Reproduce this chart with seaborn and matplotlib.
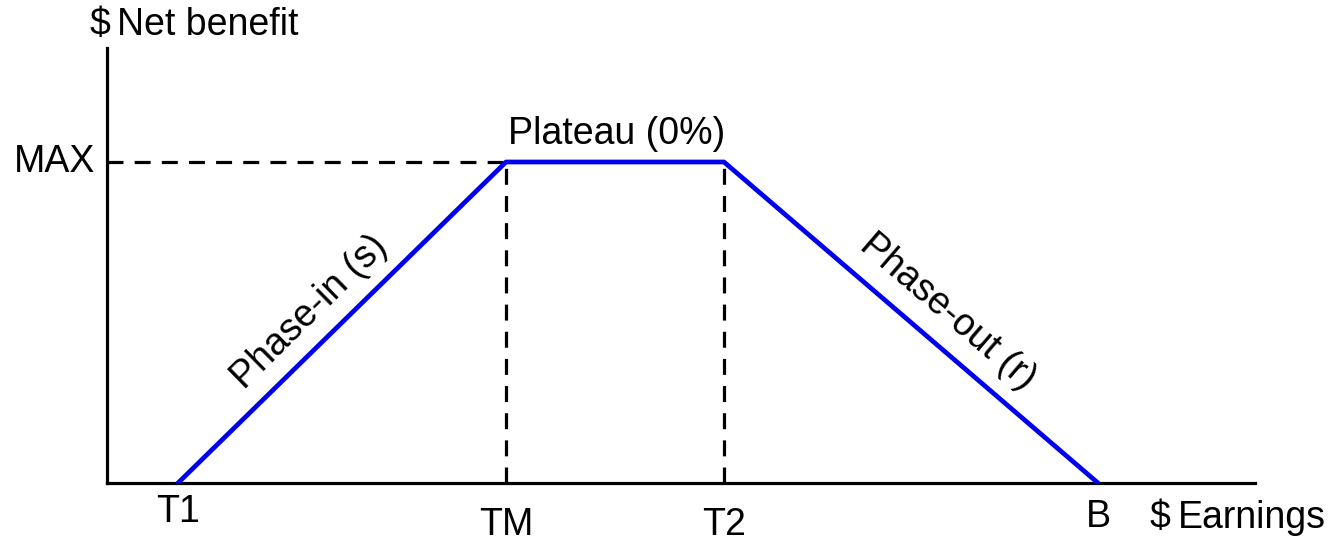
import matplotlib
matplotlib.use("Agg")
import matplotlib.pyplot as plt
import seaborn as sns
import pandas as pd

# Data (kinks of the benefit schedule, in arbitrary $ units)
points = ["T1", "TM", "T2", "B"]
earnings = [71, 399, 617, 991]
benefit = [0, 321, 321, 0]
max_benefit = 321
segment_labels = ["Phase-in (s)", "Plateau (0%)", "Phase-out (r)"]

sns.set_theme(style="white")
plt.rcParams['font.family'] = ['Liberation Sans', 'DejaVu Sans']
plt.rcParams['text.color'] = 'black'

fig = plt.figure(figsize=(13.28, 5.46), dpi=100)
ax = fig.add_axes([107/1328, (546-483)/546, (1255-107)/1328, (483-48)/546])

df = pd.DataFrame({"earnings": earnings, "benefit": benefit})
sns.lineplot(data=df, x="earnings", y="benefit", sort=False, color="#0000ee",
             linewidth=3.4, ax=ax, zorder=3)

dash = (0, (5, 3.5))
ax.plot([0, earnings[1]], [max_benefit, max_benefit], color="black", lw=2.3, linestyle=dash, zorder=2)
for xv in earnings[1:3]:
    ax.plot([xv, xv], [0, max_benefit], color="black", lw=2.3, linestyle=dash, zorder=2)

ax.set_xlim(0, 1148)
ax.set_ylim(0, 435)
ax.set_xticks([])
ax.set_yticks([])
ax.set_xlabel("")
ax.set_ylabel("")
for s in ["top", "right"]:
    ax.spines[s].set_visible(False)
for s in ["left", "bottom"]:
    ax.spines[s].set_color("black")
    ax.spines[s].set_linewidth(2.3)

fs = 27
kw = dict(fontsize=fs, color="black", clip_on=False)
# x labels
offsets = [-29, -42, -42, -34]
for p, xv, off in zip(points, earnings, offsets):
    ax.text(xv, off, p, ha="center", va="center", **kw)
ax.text(1043, -35, "$", ha="left", va="center", **kw)
ax.text(1071, -35, "Earnings", ha="left", va="center", **kw)
ax.text(-12, max_benefit, "MAX", ha="right", va="center", **kw)
ax.text(-17, 458, "$", ha="left", va="center", **kw)
ax.text(10, 458, "Net benefit", ha="left", va="center", **kw)

# segment labels
ax.text(203, 171, segment_labels[0], rotation=44.5, ha="center", va="center", **kw)
ax.text(510, 349, segment_labels[1], ha="center", va="center", **kw)
ax.text(841, 171, segment_labels[2], rotation=-40.7, ha="center", va="center", **kw)

fig.savefig("out.png", dpi=100)
